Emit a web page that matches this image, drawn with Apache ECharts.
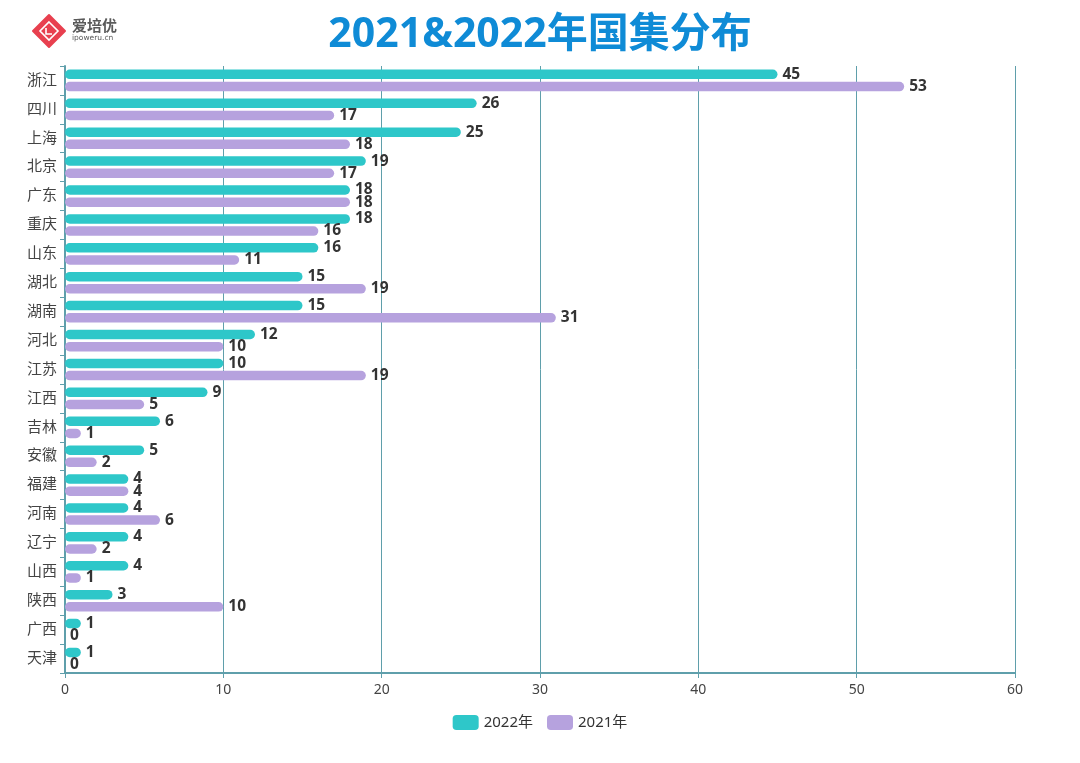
<!DOCTYPE html>
<html><head><meta charset="utf-8">
<script src="https://cdn.jsdelivr.net/npm/echarts@6/dist/echarts.min.js"></script>
<style>html,body{margin:0;padding:0;background:#fff}#c{width:1080px;height:763px}</style>
</head><body><div id="c"></div>
<script>
const categories = ['浙江','四川','上海','北京','广东','重庆','山东','湖北','湖南','河北','江苏','江西','吉林','安徽','福建','河南','辽宁','山西','陕西','广西','天津'];
const values2022 = [45,26,25,19,18,18,16,15,15,12,10,9,6,5,4,4,4,4,3,1,1];
const values2021 = [53,17,18,17,18,16,11,19,31,10,19,5,1,2,4,6,2,1,10,0,0];
const seriesNames = ['2022年','2021年'];
const xTicks = [0,10,20,30,40,50,60];

const font = '"Noto Sans","Noto Sans CJK SC",sans-serif';
const axisColor = '#5f9fab';
const chart = echarts.init(document.getElementById('c'));
chart.setOption({
  textStyle:{fontFamily:font},
  title:{text:'2021&2022年国集分布',left:'center',top:10,textStyle:{fontSize:41,fontWeight:'bold',color:'#0f8bd6',fontFamily:font}},
  graphic:[
    {type:'polygon',shape:{points:[[49,15],[65,31],[49,47],[33,31]]},style:{fill:'#e8404f',lineJoin:'round',stroke:'#e8404f',lineWidth:2},z:10},
    {type:'polygon',shape:{points:[[49,22],[58,31],[49,40],[40,31]]},style:{fill:'none',stroke:'#fff',lineWidth:1.6},z:11},
    {type:'polyline',shape:{points:[[46,28],[46,34],[52,34]]},style:{stroke:'#fff',lineWidth:1.6,fill:'none'},z:11},
    {type:'text',left:72,top:18,style:{text:'爱培优',font:'bold 15px "Noto Sans CJK SC"',fill:'#5a5a5a'}},
    {type:'text',left:72,top:34,style:{text:'ipoweru.cn',font:'7.5px "DejaVu Sans"',fill:'#5a5a5a'}}
  ],
  color:['#2ec7c9','#b6a2de'],
  legend:{data:seriesNames,bottom:28,left:'center',icon:'roundRect',itemWidth:26,itemHeight:15,itemGap:14,textStyle:{fontSize:15,color:'#333'}},
  grid:{left:65,right:65,top:66,bottom:90},
  xAxis:{type:'value',min:xTicks[0],max:xTicks[xTicks.length-1],interval:10,
    axisLine:{show:true,lineStyle:{color:axisColor,width:2}},
    axisTick:{show:true,lineStyle:{color:axisColor}},
    axisLabel:{fontSize:14,color:'#444',margin:10},
    splitLine:{show:true,lineStyle:{color:axisColor,width:1}}},
  yAxis:{type:'category',data:categories,inverse:true,
    axisLine:{show:true,lineStyle:{color:axisColor,width:2}},
    axisTick:{show:true,lineStyle:{color:axisColor}},
    axisLabel:{fontSize:15,color:'#444',margin:8}},
  series:[
    {name:seriesNames[0],type:'bar',data:values2022,barWidth:9.5,barGap:'28%',
     itemStyle:{borderRadius:5},
     label:{show:true,position:'right',distance:5,fontSize:15.5,fontWeight:'bold',color:'#333'}},
    {name:seriesNames[1],type:'bar',data:values2021,barWidth:9.5,
     itemStyle:{borderRadius:5},
     label:{show:true,position:'right',distance:5,fontSize:15.5,fontWeight:'bold',color:'#333'}}
  ]
});
</script></body></html>
